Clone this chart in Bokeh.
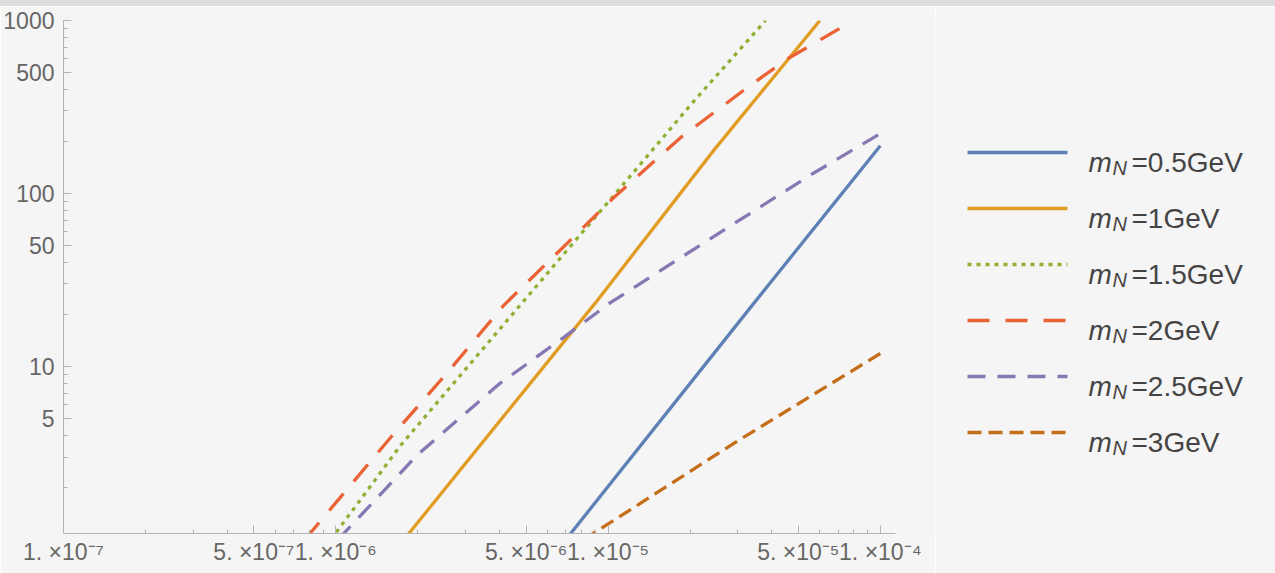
from bokeh.plotting import figure
from bokeh.models import Range1d, FixedTicker, Div
from bokeh.layouts import row, column
from bokeh.embed import file_html
from bokeh.resources import INLINE
from bokeh.core.properties import value

# ---------------- data ----------------
names = ["0.5GeV", "1GeV", "1.5GeV", "2GeV", "2.5GeV", "3GeV"]

x_05 = [7.0e-6, 3.4e-5, 1.0e-4]
y_05 = [1.0, 22.8, 189.0]

x_10 = [1.78e-6, 9.0e-6, 2.44e-5, 6.0e-5]
y_10 = [1.0, 23.4, 177.0, 1000.0]

x_15 = [9.6e-7, 1.73e-6, 4.81e-6, 1.11e-5, 2.06e-5, 3.79e-5]
y_15 = [1.0, 3.5, 23.1, 108.0, 340.0, 1000.0]

x_20 = [7.7e-7, 1.59e-6, 2.57e-6, 4.13e-6, 1.05e-5, 1.85e-5, 3.25e-5, 4.56e-5, 7.96e-5]
y_20 = [1.0, 3.89, 9.23, 22.5, 94.8, 211.0, 410.0, 600.0, 1000.0]

x_25 = [1.02e-6, 2.0e-6, 4.0e-6, 6.86e-6, 1.02e-5, 2.75e-5, 5.68e-5, 1.0e-4]
y_25 = [1.0, 3.1, 7.97, 14.7, 23.4, 63.5, 131.0, 222.0]

x_30 = [8.15e-6, 2.89e-5, 1.0e-4]
y_30 = [1.0, 3.59, 11.9]

x_major = [1e-7, 5e-7, 1e-6, 5e-6, 1e-5, 5e-5, 1e-4]
x_labels = ["1. \u00d710\u207b\u2077", "5. \u00d710\u207b\u2077", "1. \u00d710\u207b\u2076",
            "5. \u00d710\u207b\u2076", "1. \u00d710\u207b\u2075", "5. \u00d710\u207b\u2075",
            "1. \u00d710\u207b\u2074"]
y_major = [5, 10, 50, 100, 500, 1000]
y_labels = ["5", "10", "50", "100", "500", "1000"]

# ---------------- styles ----------------
colors = ["#5E81B5", "#E19C24", "#8FB032", "#EB6235", "#8778B3", "#C56E1A"]
dashes = ["solid", "solid", "4 5", "22 16", "18 12", "14 7"]
BG = "#f5f5f5"
AXIS = "#b3b3b3"
FONT = "Liberation Sans"
LW = 3.3

H = 567
B_TOP, B_BOTTOM = 14, 40

series = [(x_05, y_05), (x_10, y_10), (x_15, y_15), (x_20, y_20), (x_25, y_25), (x_30, y_30)]

p = figure(width=935, height=H, x_axis_type="log", y_axis_type="log",
           x_range=Range1d(1e-7, 1.137e-4), y_range=Range1d(1.084, 1000),
           output_backend="svg", toolbar_location=None, title=None,
           min_border_left=63, min_border_right=40,
           min_border_top=B_TOP, min_border_bottom=B_BOTTOM,
           background_fill_color=BG, border_fill_color=BG)
p.outline_line_color = None
p.grid.visible = False

for (xs, ys), c, d in zip(series, colors, dashes):
    p.line(xs, ys, line_color=c, line_width=LW, line_dash=d)

x_minor = [k * 10.0 ** e for e in (-7, -6, -5) for k in (2, 3, 4, 6, 7, 8, 9)]
y_minor = [k * 10 ** e for e in (0, 1, 2) for k in (2, 3, 4, 6, 7, 8, 9)]

p.xaxis.ticker = FixedTicker(ticks=x_major, minor_ticks=x_minor)
p.xaxis.major_label_overrides = {v: l for v, l in zip(x_major, x_labels)}
p.yaxis.ticker = FixedTicker(ticks=y_major, minor_ticks=y_minor)
p.yaxis.major_label_overrides = {v: l for v, l in zip(y_major, y_labels)}

for ax in (p.xaxis, p.yaxis):
    ax.axis_line_color = AXIS
    ax.major_tick_line_color = AXIS
    ax.minor_tick_line_color = AXIS
    ax.major_tick_in = 8
    ax.major_tick_out = 0
    ax.minor_tick_in = 4
    ax.minor_tick_out = 0
    ax.major_label_text_font = FONT
    ax.major_label_text_font_size = "23px"
    ax.major_label_text_color = "#666666"
p.xaxis.major_label_standoff = 5
p.yaxis.major_label_standoff = 9

# ---------------- legend panel (frame aligned with the main plot) ----------------
row_step = 56
row0 = 146            # first legend row, px from top of the figure
f_top = B_TOP
f_bot = H - B_BOTTOM
leg = figure(width=340, height=H, title=None,
             x_range=Range1d(0, 340),
             y_range=Range1d((f_bot - row0) / row_step, -(row0 - f_top) / row_step),
             output_backend="svg", toolbar_location=None,
             min_border_left=0, min_border_right=0,
             min_border_top=B_TOP, min_border_bottom=B_BOTTOM,
             x_axis_location=None, y_axis_location=None,
             background_fill_color=BG, border_fill_color=BG)
leg.outline_line_color = None
leg.grid.visible = False

sw0, sw1 = 32, 132
tx_m, tx_n, tx_rest = 153, 177, 196
rows = list(range(len(names)))
for i, c, d in zip(rows, colors, dashes):
    leg.line([sw0, sw1], [i, i], line_color=c, line_width=LW, line_dash=d)

leg.text(x=[tx_m] * len(rows), y=rows, text=["m"] * len(rows),
         text_font=value(FONT), text_font_style="italic", text_font_size="28px",
         text_color="#444444", text_baseline="alphabetic", y_offset=10)
leg.text(x=[tx_n] * len(rows), y=rows, text=["N"] * len(rows),
         text_font=value(FONT), text_font_style="italic", text_font_size="20px",
         text_color="#444444", text_baseline="alphabetic", y_offset=15)
leg.text(x=[tx_rest] * len(rows), y=rows, text=["=" + n for n in names],
         text_font=value(FONT), text_font_size="28px",
         text_color="#444444", text_baseline="alphabetic", y_offset=10)

strip = Div(text="", width=1275, height=6, margin=0,
            styles={"background-color": "#dcdcdc"})

layout = column(strip, row(p, leg, spacing=0), spacing=0)

open("out.html", "w").write(file_html(layout, INLINE))
